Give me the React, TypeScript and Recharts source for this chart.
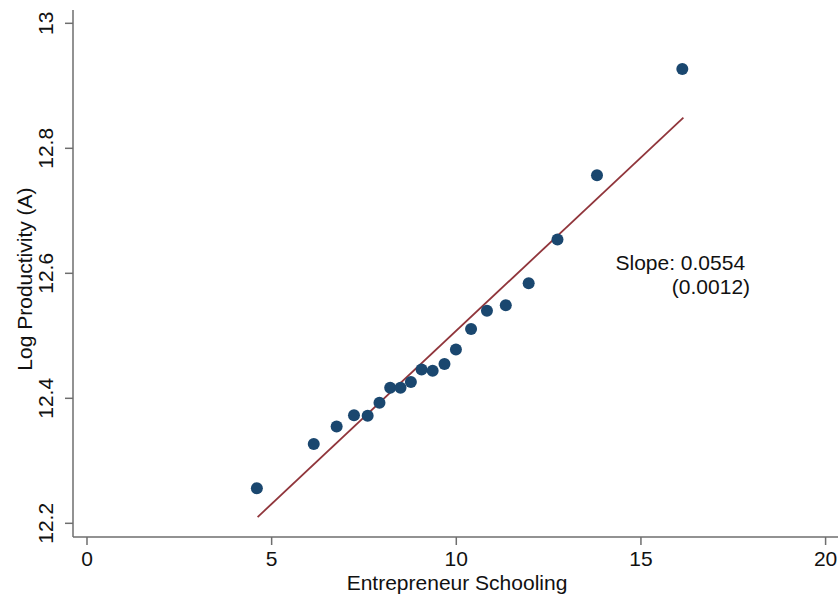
import {
  ScatterChart,
  Scatter,
  XAxis,
  YAxis,
  ReferenceLine,
  ReferenceDot,
} from 'recharts'

// binned scatter: entrepreneur schooling vs log productivity
const schooling = [
  4.6, 6.14, 6.76, 7.23, 7.6, 7.92, 8.21, 8.49, 8.77, 9.06,
  9.36, 9.68, 9.99, 10.4, 10.83, 11.34, 11.96, 12.74, 13.81, 16.12,
]
const logProductivity = [
  12.256, 12.327, 12.355, 12.373, 12.372, 12.393, 12.417, 12.417, 12.426, 12.446,
  12.444, 12.455, 12.478, 12.511, 12.54, 12.549, 12.584, 12.654, 12.757, 12.927,
]
const fitX = [4.62, 16.15]
const fitY = [12.21, 12.849]
const xTicks = [0, 5, 10, 15, 20]
const yTicks = [12.2, 12.4, 12.6, 12.8, 13]
const slopeText = ['Slope: 0.0554', '(0.0012)']

const points = schooling.map((x, i) => ({ x, y: logProductivity[i] }))

const FONT = '"Liberation Sans", Arial, sans-serif'
const NAVY = '#1a476f'
const MAROON = '#90353b'
const AXIS = '#6e6e6e'

function XTick(props: any) {
  const { x, y, payload } = props
  return (
    <text x={x} y={y + 19} textAnchor="middle" fontFamily={FONT} fontSize={21} fill="#111">
      {payload.value}
    </text>
  )
}

function YTick(props: any) {
  const { y, payload } = props
  return (
    <text
      x={53}
      y={y}
      transform={`rotate(-90, 53, ${y})`}
      textAnchor="middle"
      fontFamily={FONT}
      fontSize={21}
      fill="#111"
    >
      {payload.value}
    </text>
  )
}

export default function App() {
  return (
    <div style={{ position: 'absolute', left: 0, top: 0, background: '#fff' }}>
      <ScatterChart width={838} height={599} margin={{ top: 10, right: 0, bottom: 0, left: 0 }}>
        <XAxis
          type="number"
          dataKey="x"
          domain={[-0.379, 20.336]}
          ticks={xTicks}
          allowDataOverflow
          height={62}
          stroke={AXIS}
          strokeWidth={1.5}
          tickSize={8}
          tick={<XTick />}
          label={() => (
            <text x={457} y={590} textAnchor="middle" fontFamily={FONT} fontSize={21} fill="#111">
              Entrepreneur Schooling
            </text>
          )}
        />
        <YAxis
          type="number"
          dataKey="y"
          domain={[12.1781, 13.0213]}
          ticks={yTicks}
          allowDataOverflow
          width={73}
          stroke={AXIS}
          strokeWidth={1.5}
          tickSize={8}
          tick={<YTick />}
          label={() => (
            <text
              x={32}
              y={279}
              transform="rotate(-90, 32, 279)"
              textAnchor="middle"
              fontFamily={FONT}
              fontSize={21}
              fill="#111"
            >
              Log Productivity (A)
            </text>
          )}
        />
        <ReferenceLine
          segment={[
            { x: fitX[0], y: fitY[0] },
            { x: fitX[1], y: fitY[1] },
          ]}
          stroke={MAROON}
          strokeWidth={1.8}
        />
        <Scatter
          data={points}
          isAnimationActive={false}
          shape={(p: any) => <circle cx={p.cx} cy={p.cy} r={6} fill={NAVY} />}
        />
        <ReferenceDot
          x={17.82}
          y={12.6}
          r={0}
          shape={(p: any) => (
            <g fontFamily={FONT} fontSize={21} fill="#111">
              <text x={p.cx} y={p.cy - 3} textAnchor="end">
                {slopeText[0]}
              </text>
              <text x={p.cx + 5} y={p.cy + 21} textAnchor="end">
                {slopeText[1]}
              </text>
            </g>
          )}
        />
      </ScatterChart>
    </div>
  )
}
